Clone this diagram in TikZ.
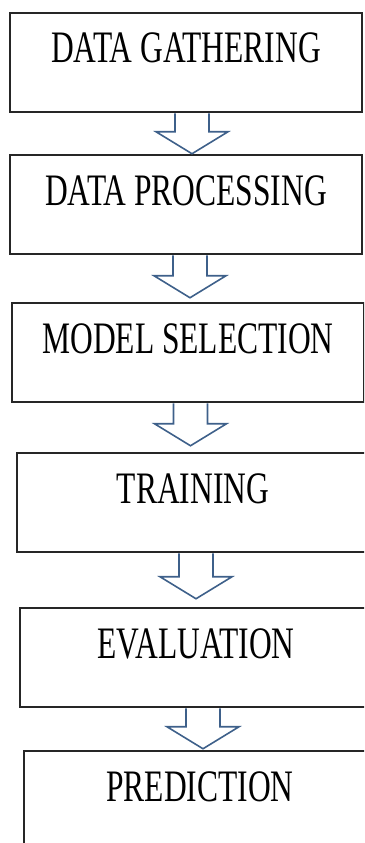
\documentclass[tikz,border=0pt]{standalone}
\usepackage{fontspec}
\newfontfamily\stagefont[FakeStretch=0.7]{Liberation Serif}
\usetikzlibrary{calc}
\definecolor{flowblue}{RGB}{62,96,138}

\begin{document}
\begin{tikzpicture}[x=1pt, y=1pt, line join=miter,
		stage/.style={draw=black!85, line width=2.5pt, minimum width=352pt,
			inner xsep=0pt, inner ysep=0pt, text height=50pt, text depth=49pt,
			font=\stagefont\fontsize{45}{50}\selectfont},
		flow/.style={draw=flowblue, line width=1.6pt}]
	\useasboundingbox (0,0) rectangle (364,-843);
	\clip (0,0) rectangle (364,-843);
	
	% The six stages of the pipeline
	\foreach \n/\cx/\cy/\txt in {g/186/62.5/DATA GATHERING, p/186/204.5/DATA PROCESSING,
		m/188/352.5/MODEL SELECTION, t/193/502.5/TRAINING,
		e/196/657.5/EVALUATION, r/200/800.5/PREDICTION} {
		\node[stage] (\n) at (\cx,-\cy) {\txt};
	}
	
	% Hollow block arrows between the stages
	\foreach \a/\b/\dx/\gap in {g/p/6/0, p/m/4/4, m/t/2.5/6, t/e/3/8, e/r/7/1} {
		\draw[flow] let \p1=($(\a.south)+(\dx,0)$), \p2=($(\b.north)+(0,\gap)$) in
			(\x1-17pt,\y1) -- (\x1-17pt,\y2+22pt) -- (\x1-36pt,\y2+22pt) -- (\x1,\y2)
			-- (\x1+36pt,\y2+22pt) -- (\x1+17pt,\y2+22pt) -- (\x1+17pt,\y1);
	}
\end{tikzpicture}
\end{document}
